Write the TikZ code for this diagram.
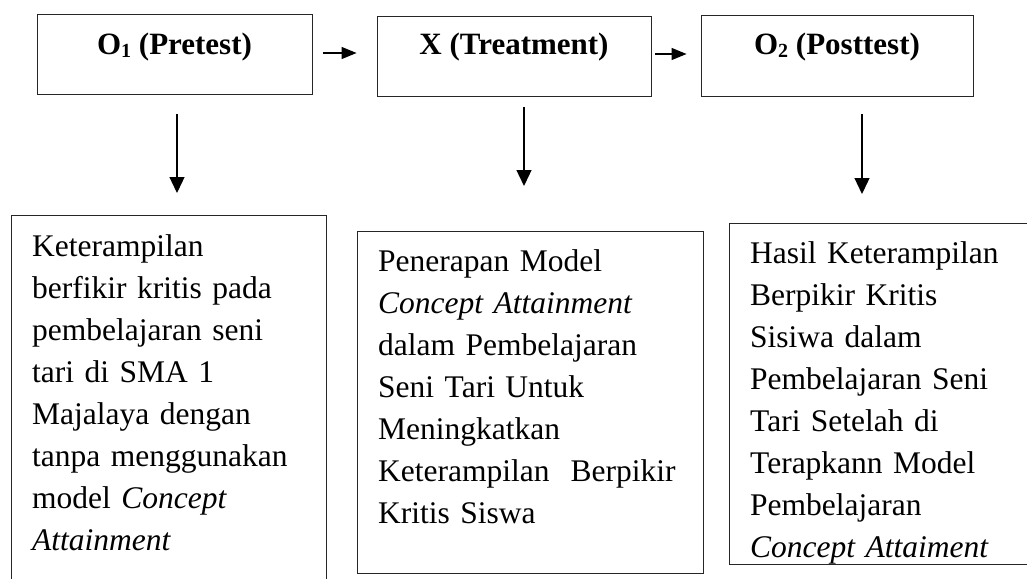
\documentclass[tikz,border=0pt]{standalone}
\usepackage{fontspec}
\setmainfont{Liberation Serif}
\usetikzlibrary{arrows.meta}
\newcommand{\subidx}[1]{\raisebox{-2pt}{\fontsize{20}{20}\selectfont #1}}
\begin{document}
\begin{tikzpicture}[x=1pt,y=-1pt,
  box/.style={draw=black!85, line width=0.9pt, inner sep=0pt},
  toplabel/.style={font=\fontsize{31}{37}\selectfont\bfseries, anchor=base, inner sep=0pt},
  bodytext/.style={font=\fontsize{31.5}{42}\selectfont, anchor=base west, align=left, inner sep=0pt},
  harr/.style={line width=1.3pt, -{Triangle[length=15pt,width=12pt]}},
  varr/.style={line width=1.3pt, -{Triangle[length=16pt,width=15pt]}}]
\useasboundingbox (0,0) rectangle (1027,578);
\clip (0,0) rectangle (1027,578);
% top boxes
\node[box, minimum width=275pt, minimum height=80pt] (b1) at (174.5,54) {};
\node[box, minimum width=274pt, minimum height=80pt] (b2) at (514,56) {};
\node[box, minimum width=272pt, minimum height=81pt] (b3) at (837,55.5) {};
\node[toplabel] (t1) at (174.5,55) {O\subidx{1} (Pretest)};
\node[toplabel] (t2) at (514,55) {X (Treatment)};
\node[toplabel] (t3) at (837,55) {O\subidx{2} (Posttest)};
% horizontal arrows
\draw[harr, shorten <=11pt, shorten >=20pt] (b1.east |- 0,53) -- (b2.west |- 0,53);
\draw[harr, shorten <=4pt, shorten >=14pt] (b2.east |- 0,54) -- (b3.west |- 0,54);
% bottom boxes
\node[box, minimum width=315pt, minimum height=385pt] (b4) at (168.5,407.5) {};
\node[box, minimum width=346pt, minimum height=342pt] (b5) at (530,402) {};
\node[box, minimum width=321pt, minimum height=341pt] (b6) at (889.5,393.5) {};
% vertical arrows
\coordinate (s1) at (177,114); \coordinate (e1) at (177,193);
\coordinate (s2) at (524,107); \coordinate (e2) at (524,186);
\coordinate (s3) at (862,114); \coordinate (e3) at (862,194);
\draw[varr] (s1) -- (e1);
\draw[varr] (s2) -- (e2);
\draw[varr] (s3) -- (e3);
% texts
\node[bodytext, text width=290pt] (x4) at (32,256.7) {Keterampilan\\berfikir kritis pada\\pembelajaran seni\\tari di SMA 1\\Majalaya dengan\\tanpa menggunakan\\model \textit{Concept}\\\textit{Attainment}};
\node[bodytext, text width=320pt] (x5) at (378,271.7) {Penerapan Model\\\textit{Concept Attainment}\\dalam Pembelajaran\\Seni Tari Untuk\\Meningkatkan\\Keterampilan\ \ Berpikir\\Kritis Siswa};
\node[bodytext, text width=275pt] (x6) at (750,263) {Hasil Keterampilan\\Berpikir Kritis\\Sisiwa dalam\\Pembelajaran Seni\\Tari Setelah di\\Terapkann Model\\Pembelajaran\\\textit{Concept Attaiment}};
\end{tikzpicture}
\end{document}
